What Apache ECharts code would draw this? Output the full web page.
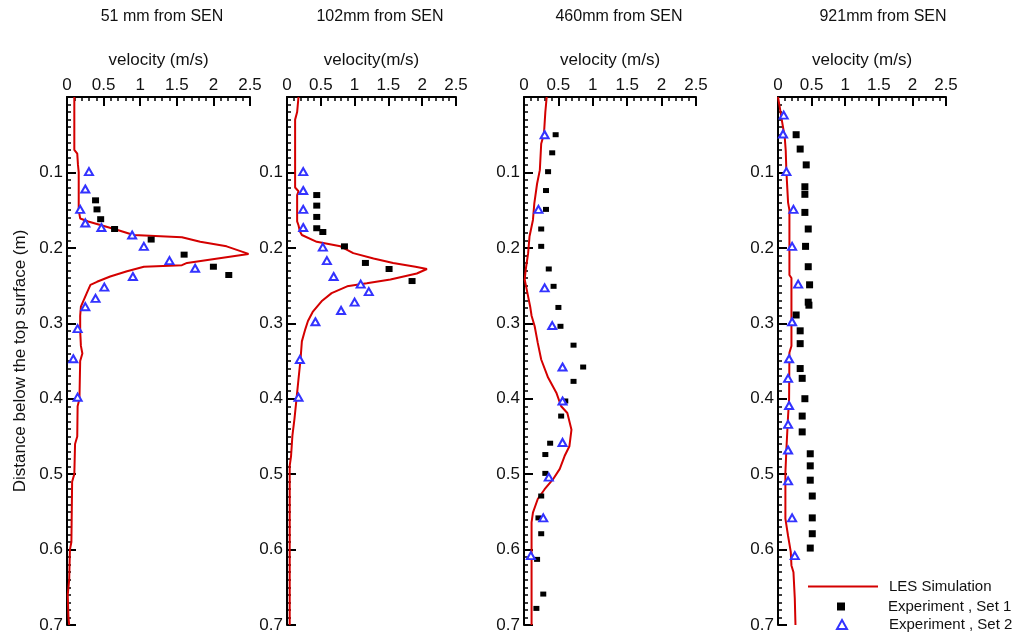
<!DOCTYPE html>
<html>
<head>
<meta charset="utf-8">
<title>velocity profiles</title>
<script src="https://cdn.jsdelivr.net/npm/echarts@6/dist/echarts.min.js"></script>
<style>
  html, body { margin: 0; padding: 0; background: #fff; }
  #main { width: 1013px; height: 635px; }
</style>
</head>
<body>
<div id="main"></div>
<script>
// panel headings and axis names
var titles = ['51 mm from SEN', '102mm from SEN', '460mm from SEN', '921mm from SEN'];
var xNames = ['velocity (m/s)', 'velocity(m/s)', 'velocity (m/s)', 'velocity (m/s)'];
var yName = 'Distance below the top surface (m)';
var xTicks = [0, 0.5, 1, 1.5, 2, 2.5];
var yTicks = [0, 0.1, 0.2, 0.3, 0.4, 0.5, 0.6, 0.7];

// LES simulation, [velocity m/s, depth m]
var les51 = [[0.10,0],[0.10,0.07],[0.14,0.075],[0.15,0.09],[0.16,0.10],[0.16,0.15],[0.18,0.161],
  [0.29,0.165],[0.68,0.176],[0.91,0.183],[1.57,0.186],[1.82,0.192],[2.18,0.198],[2.48,0.208],
  [2.48,0.210],[1.64,0.220],[1.57,0.223],[1.05,0.225],[0.82,0.231],[0.59,0.238],[0.41,0.245],
  [0.32,0.249],[0.27,0.26],[0.19,0.278],[0.18,0.29],[0.18,0.31],[0.19,0.33],[0.21,0.34],
  [0.18,0.35],[0.17,0.40],[0.145,0.41],[0.14,0.45],[0.11,0.46],[0.10,0.50],[0.07,0.51],
  [0.06,0.59],[0.04,0.60],[0.03,0.64],[0.01,0.66],[0.02,0.69],[0.03,0.70]];
var les102 = [[0.17,0],[0.15,0.02],[0.12,0.03],[0.12,0.12],[0.17,0.125],[0.15,0.13],[0.15,0.165],
  [0.17,0.17],[0.19,0.178],[0.22,0.183],[0.44,0.192],[0.79,0.198],[0.98,0.207],[1.28,0.214],
  [1.57,0.220],[1.90,0.225],[2.07,0.228],[1.92,0.234],[1.53,0.242],[1.18,0.247],[0.89,0.251],
  [0.66,0.26],[0.52,0.27],[0.38,0.285],[0.31,0.297],[0.27,0.308],[0.22,0.324],[0.20,0.348],
  [0.17,0.374],[0.14,0.401],[0.11,0.427],[0.08,0.449],[0.06,0.476],[0.04,0.489],[0.04,0.70]];
var les460 = [[0.33,0],[0.31,0.02],[0.29,0.049],[0.25,0.062],[0.23,0.097],[0.19,0.115],[0.15,0.141],
  [0.13,0.163],[0.08,0.185],[0.06,0.207],[0.025,0.229],[0.01,0.242],[0.05,0.26],[0.09,0.278],
  [0.11,0.29],[0.155,0.304],[0.20,0.326],[0.25,0.348],[0.35,0.372],[0.47,0.392],[0.54,0.410],
  [0.63,0.419],[0.69,0.441],[0.66,0.463],[0.59,0.476],[0.52,0.493],[0.42,0.507],[0.30,0.520],
  [0.20,0.533],[0.13,0.551],[0.11,0.564],[0.11,0.70]];
var les921 = [[0,0],[0.025,0.013],[0.065,0.035],[0.10,0.053],[0.115,0.071],[0.125,0.099],[0.15,0.10],
  [0.15,0.14],[0.17,0.15],[0.17,0.236],[0.20,0.24],[0.20,0.33],[0.17,0.339],[0.165,0.401],
  [0.15,0.423],[0.125,0.467],[0.11,0.498],[0.11,0.559],[0.15,0.582],[0.19,0.603],[0.20,0.621],
  [0.23,0.630],[0.25,0.665],[0.26,0.70]];

// Experiment, set 1
var exp1_51 = [[0.39,0.137],[0.41,0.149],[0.46,0.162],[0.65,0.175],[1.15,0.189],[1.60,0.209],
  [2.00,0.225],[2.21,0.236]];
var exp1_102 = [[0.44,0.130],[0.44,0.144],[0.44,0.159],[0.44,0.174],[0.53,0.179],[0.85,0.198],
  [1.16,0.220],[1.51,0.228],[1.85,0.244]];
var exp1_460 = [[0.46,0.05],[0.41,0.074],[0.35,0.099],[0.32,0.124],[0.32,0.149],[0.25,0.175],
  [0.25,0.198],[0.36,0.228],[0.43,0.251],[0.50,0.279],[0.53,0.304],[0.72,0.329],[0.86,0.358],
  [0.72,0.377],[0.60,0.403],[0.54,0.423],[0.38,0.459],[0.31,0.474],[0.31,0.499],[0.25,0.529],
  [0.21,0.558],[0.25,0.579],[0.19,0.613],[0.28,0.659],[0.18,0.678]];
var exp1_921 = [[0.27,0.05],[0.33,0.069],[0.42,0.090],[0.40,0.119],[0.40,0.129],[0.40,0.153],
  [0.45,0.175],[0.41,0.198],[0.45,0.225],[0.47,0.249],[0.45,0.272],[0.46,0.276],[0.27,0.289],
  [0.33,0.310],[0.33,0.327],[0.33,0.360],[0.36,0.373],[0.40,0.400],[0.36,0.423],[0.36,0.444],
  [0.48,0.473],[0.48,0.489],[0.48,0.508],[0.51,0.529],[0.51,0.558],[0.51,0.579],[0.48,0.598]];

// Experiment, set 2
var exp2_51 = [[0.30,0.099],[0.25,0.122],[0.18,0.149],[0.25,0.167],[0.47,0.173],[0.89,0.183],
  [1.05,0.198],[1.40,0.217],[1.75,0.227],[0.90,0.238],[0.51,0.252],[0.39,0.267],[0.25,0.278],
  [0.145,0.307],[0.086,0.347],[0.145,0.398]];
var exp2_102 = [[0.24,0.099],[0.24,0.124],[0.24,0.149],[0.24,0.173],[0.53,0.199],[0.59,0.217],
  [0.69,0.238],[1.09,0.248],[1.21,0.258],[1.00,0.272],[0.80,0.283],[0.42,0.298],[0.19,0.348],
  [0.17,0.398]];
var exp2_460 = [[0.30,0.05],[0.21,0.149],[0.30,0.253],[0.41,0.303],[0.56,0.358],[0.56,0.403],
  [0.56,0.458],[0.36,0.504],[0.28,0.558],[0.10,0.608]];
var exp2_921 = [[0.085,0.024],[0.075,0.049],[0.125,0.099],[0.23,0.149],[0.21,0.198],[0.30,0.248],
  [0.21,0.298],[0.165,0.347],[0.15,0.373],[0.165,0.409],[0.15,0.434],[0.15,0.468],[0.15,0.509],
  [0.21,0.558],[0.25,0.608]];

var lesData = [les51, les102, les460, les921];
var set1Data = [exp1_51, exp1_102, exp1_460, exp1_921];
var set2Data = [exp2_51, exp2_102, exp2_460, exp2_921];

var FONT = 'Liberation Sans, Arial, sans-serif';
var RED = '#d40000', BLUE = '#3333ff', INK = '#111';
var panels = [
  {left: 67, width: 183, mid: 162, sq: [7, 6]},
  {left: 287, width: 169, mid: 380, sq: [7, 6]},
  {left: 524, width: 172, mid: 619, sq: [6, 5]},
  {left: 778, width: 168, mid: 883, sq: [7, 7]}
];

var title = [], grid = [], xAxis = [], yAxis = [], series = [];
panels.forEach(function (p, i) {
  title.push({
    text: titles[i], left: p.mid, top: 9, textAlign: 'center', padding: 0,
    textStyle: {fontFamily: FONT, fontSize: 16, fontWeight: 'normal', color: INK}
  });
  grid.push({left: p.left, width: p.width, top: 97, height: 528});
  xAxis.push({
    type: 'value', gridIndex: i, position: 'top',
    min: xTicks[0], max: xTicks[xTicks.length - 1], interval: xTicks[1] - xTicks[0],
    name: xNames[i], nameLocation: 'middle', nameGap: 28,
    nameTextStyle: {fontFamily: FONT, fontSize: 17, color: INK},
    axisLine: {onZero: false, lineStyle: {color: '#000', width: 2}},
    axisTick: {inside: true, length: 9, lineStyle: {color: '#000', width: 2}},
    minorTick: {show: true, splitNumber: 5, length: 4, lineStyle: {color: '#000', width: 1.5}},
    splitLine: {show: false},
    axisLabel: {fontFamily: FONT, fontSize: 17, color: INK, margin: 3}
  });
  yAxis.push({
    type: 'value', gridIndex: i, inverse: true,
    min: yTicks[0], max: yTicks[yTicks.length - 1], interval: yTicks[1] - yTicks[0],
    name: i === 0 ? yName : '', nameLocation: 'middle', nameGap: 38,
    nameTextStyle: {fontFamily: FONT, fontSize: 17, color: INK},
    axisLine: {onZero: false, lineStyle: {color: '#000', width: 2}},
    axisTick: {inside: true, length: 9, lineStyle: {color: '#000', width: 2}},
    minorTick: {show: true, splitNumber: 10, length: 4, lineStyle: {color: '#000', width: 1.5}},
    splitLine: {show: false},
    axisLabel: {
      fontFamily: FONT, fontSize: 17, color: INK, margin: 4,
      formatter: function (v) { return v === 0 ? '' : String(+v.toFixed(1)); }
    }
  });
  series.push({
    name: 'LES Simulation', type: 'line', xAxisIndex: i, yAxisIndex: i,
    data: lesData[i], symbol: 'none', lineStyle: {color: RED, width: 2}, itemStyle: {color: RED},
    animation: false, z: 2
  });
  series.push({
    name: 'Experiment , Set 1', type: 'scatter', xAxisIndex: i, yAxisIndex: i,
    data: set1Data[i], symbol: 'rect', symbolSize: p.sq,
    itemStyle: {color: '#000', opacity: 1}, animation: false, z: 3
  });
  series.push({
    name: 'Experiment , Set 2', type: 'scatter', xAxisIndex: i, yAxisIndex: i,
    data: set2Data[i], symbol: 'triangle', symbolSize: [8, 7],
    itemStyle: {color: '#fff', borderColor: BLUE, borderWidth: 2, opacity: 1}, animation: false, z: 4
  });
});

var legendText = {fontFamily: FONT, fontSize: 15, color: INK};
var chart = echarts.init(document.getElementById('main'));
chart.setOption({
  backgroundColor: '#fff',
  animation: false,
  title: title,
  grid: grid,
  xAxis: xAxis,
  yAxis: yAxis,
  legend: [
    {
      data: [{name: 'LES Simulation', icon: 'line'}], left: 807, top: 579, padding: 0,
      selectedMode: false, itemWidth: 70, itemHeight: 14,
      itemStyle: {color: RED, borderColor: RED, borderWidth: 2},
      textStyle: Object.assign({padding: [0, 0, 0, 6]}, legendText)
    },
    {
      data: [{name: 'Experiment , Set 1', icon: 'rect'}], left: 837, top: 599, padding: 0,
      selectedMode: false, itemWidth: 8, itemHeight: 8,
      itemStyle: {color: '#000', borderWidth: 0},
      textStyle: Object.assign({padding: [0, 0, 0, 38]}, legendText)
    },
    {
      data: [{name: 'Experiment , Set 2', icon: 'triangle'}], left: 836, top: 617, padding: 0,
      selectedMode: false, itemWidth: 10, itemHeight: 9,
      itemStyle: {color: '#fff', borderColor: BLUE, borderWidth: 2},
      textStyle: Object.assign({padding: [0, 0, 0, 37]}, legendText)
    }
  ],
  series: series
});
</script>
</body>
</html>
